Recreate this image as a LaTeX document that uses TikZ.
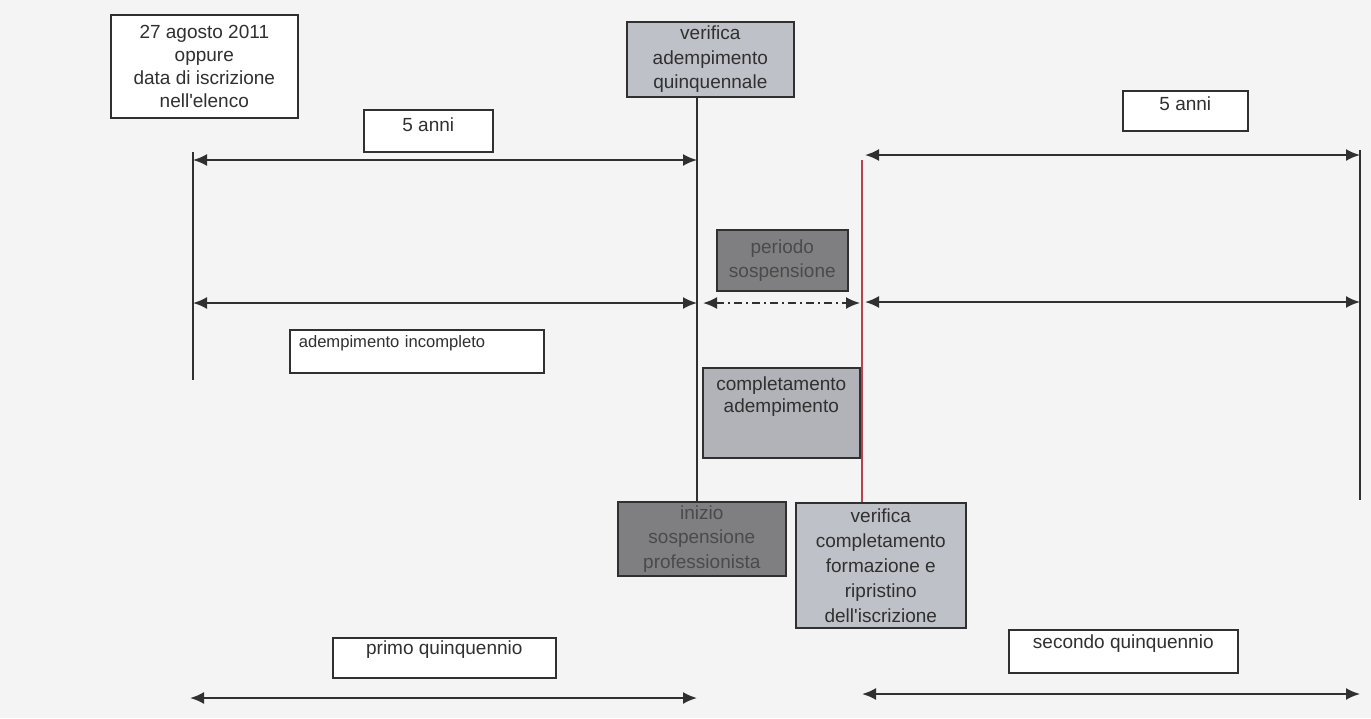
\documentclass[tikz,border=0pt]{standalone}
\usepackage{fontspec}
\setmainfont{Liberation Sans}[Ligatures=TeXOff]
\usetikzlibrary{arrows.meta}
\definecolor{bg}{HTML}{F4F4F4}
\definecolor{ink}{HTML}{303030}
\definecolor{lightbox}{HTML}{BFC1C8}
\definecolor{midbox}{HTML}{B2B3B8}
\definecolor{darkbox}{HTML}{7F7F81}
\definecolor{darktext}{HTML}{4A4A4A}
\definecolor{redline}{HTML}{B8404F}
\begin{document}
\begin{tikzpicture}[x=0.5pt,y=-0.5pt,
  font=\fontsize{9.5}{11}\selectfont, text=ink,
  box/.style={draw=ink, line width=0.8pt, align=center, inner sep=0pt, anchor=north west},
  whitebox/.style={box, fill=white},
  lightfill/.style={box, fill=lightbox},
  midfill/.style={box, fill=midbox},
  darkfill/.style={box, fill=darkbox, text=darktext},
  tl/.style={line width=1pt, draw=ink},
  dbl/.style={tl, {Latex[length=7pt,width=6pt]}-{Latex[length=7pt,width=6pt]}},
  dashdbl/.style={dbl, dash pattern=on 4pt off 2pt on 1pt off 2pt}
]
\fill[bg] (0,0) rectangle (1371,718);
\useasboundingbox (0,0) rectangle (1371,718);

% boxes
\node[whitebox, minimum width=93.5pt, minimum height=51.5pt, font=\fontsize{9.5}{11.5}\selectfont] (start) at (110,14)
  {27 agosto 2011\\oppure\\data di iscrizione\\nell'elenco};
\node[lightfill, minimum width=83.5pt, minimum height=37.5pt, font=\fontsize{9.5}{12.2}\selectfont] (verq) at (626,21)
  {verifica\\adempimento\\quinquennale};
\node[whitebox, minimum width=64.5pt, text height=11pt, text depth=10pt] (anniL) at (363,109) {5 anni};
\node[whitebox, minimum width=62.5pt, text height=10pt, text depth=10pt] (anniR) at (1122,90) {5 anni};
\node[darkfill, minimum width=65.5pt, minimum height=30.5pt, font=\fontsize{9.5}{12}\selectfont] (periodo) at (716,229)
  {periodo\\sospensione};
\node[whitebox, text width=118pt, align=left, inner xsep=4.5pt, inner ysep=0pt,
  text height=9pt, text depth=12.5pt, font=\fontsize{8.3}{10}\selectfont] (incompl) at (289,329)
  {adempimento incompleto};
\node[midfill, minimum width=78.5pt, minimum height=45pt] (compl) at (702,367) {};
\node[align=center, anchor=north, inner sep=0pt] (compltxt) at ([yshift=-4.5pt]compl.north)
  {completamento\\adempimento};
\node[darkfill, minimum width=84pt, minimum height=37pt, font=\fontsize{9.5}{12.2}\selectfont] (inizio) at (617,501)
  {inizio\\sospensione\\professionista};
\node[lightfill, minimum width=85pt, minimum height=62.5pt, font=\fontsize{9.5}{12.5}\selectfont] (verc) at (795,502)
  {verifica\\completamento\\formazione e\\ripristino\\dell'iscrizione};
\node[whitebox, minimum width=111.5pt, text height=8.5pt, text depth=11.5pt] (primo) at (332,637)
  {primo quinquennio};
\node[whitebox, minimum width=114.5pt, text height=9.5pt, text depth=12pt] (secondo) at (1008,629)
  {secondo quinquennio};

% reference coordinates
\coordinate (mx) at (697,0);
\coordinate (rx) at (862,0);
\coordinate (l1) at (193,152);
\coordinate (l2) at (193,380);
\coordinate (e1) at (1360,150);
\coordinate (e2) at (1360,500);
\coordinate (r1) at (862,160);

% vertical lines
\draw[tl] (l1) -- (l2);
\draw[tl] (verq.south -| mx) -- (inizio.north -| mx);
\draw[line width=0.8pt, draw=redline] (r1) -- (verc.north -| rx);
\draw[tl] (e1) -- (e2);

% arrows
\coordinate (a1s) at (193,160); \coordinate (a1e) at (697,160);
\coordinate (a2s) at (865,155); \coordinate (a2e) at (1360,155);
\coordinate (a3s) at (193,303); \coordinate (a3e) at (697,303);
\coordinate (a4s) at (703,303); \coordinate (a4e) at (860,303);
\coordinate (a5s) at (865,302); \coordinate (a5e) at (1360,302);
\coordinate (a6s) at (190,698); \coordinate (a6e) at (697,698);
\coordinate (a7s) at (862,694); \coordinate (a7e) at (1360,694);
\draw[dbl] (a1s) -- (a1e);
\draw[dbl] (a2s) -- (a2e);
\draw[dbl] (a3s) -- (a3e);
\draw[dashdbl] (a4s) -- (a4e);
\draw[dbl] (a5s) -- (a5e);
\draw[dbl] (a6s) -- (a6e);
\draw[dbl] (a7s) -- (a7e);
\end{tikzpicture}
\end{document}
